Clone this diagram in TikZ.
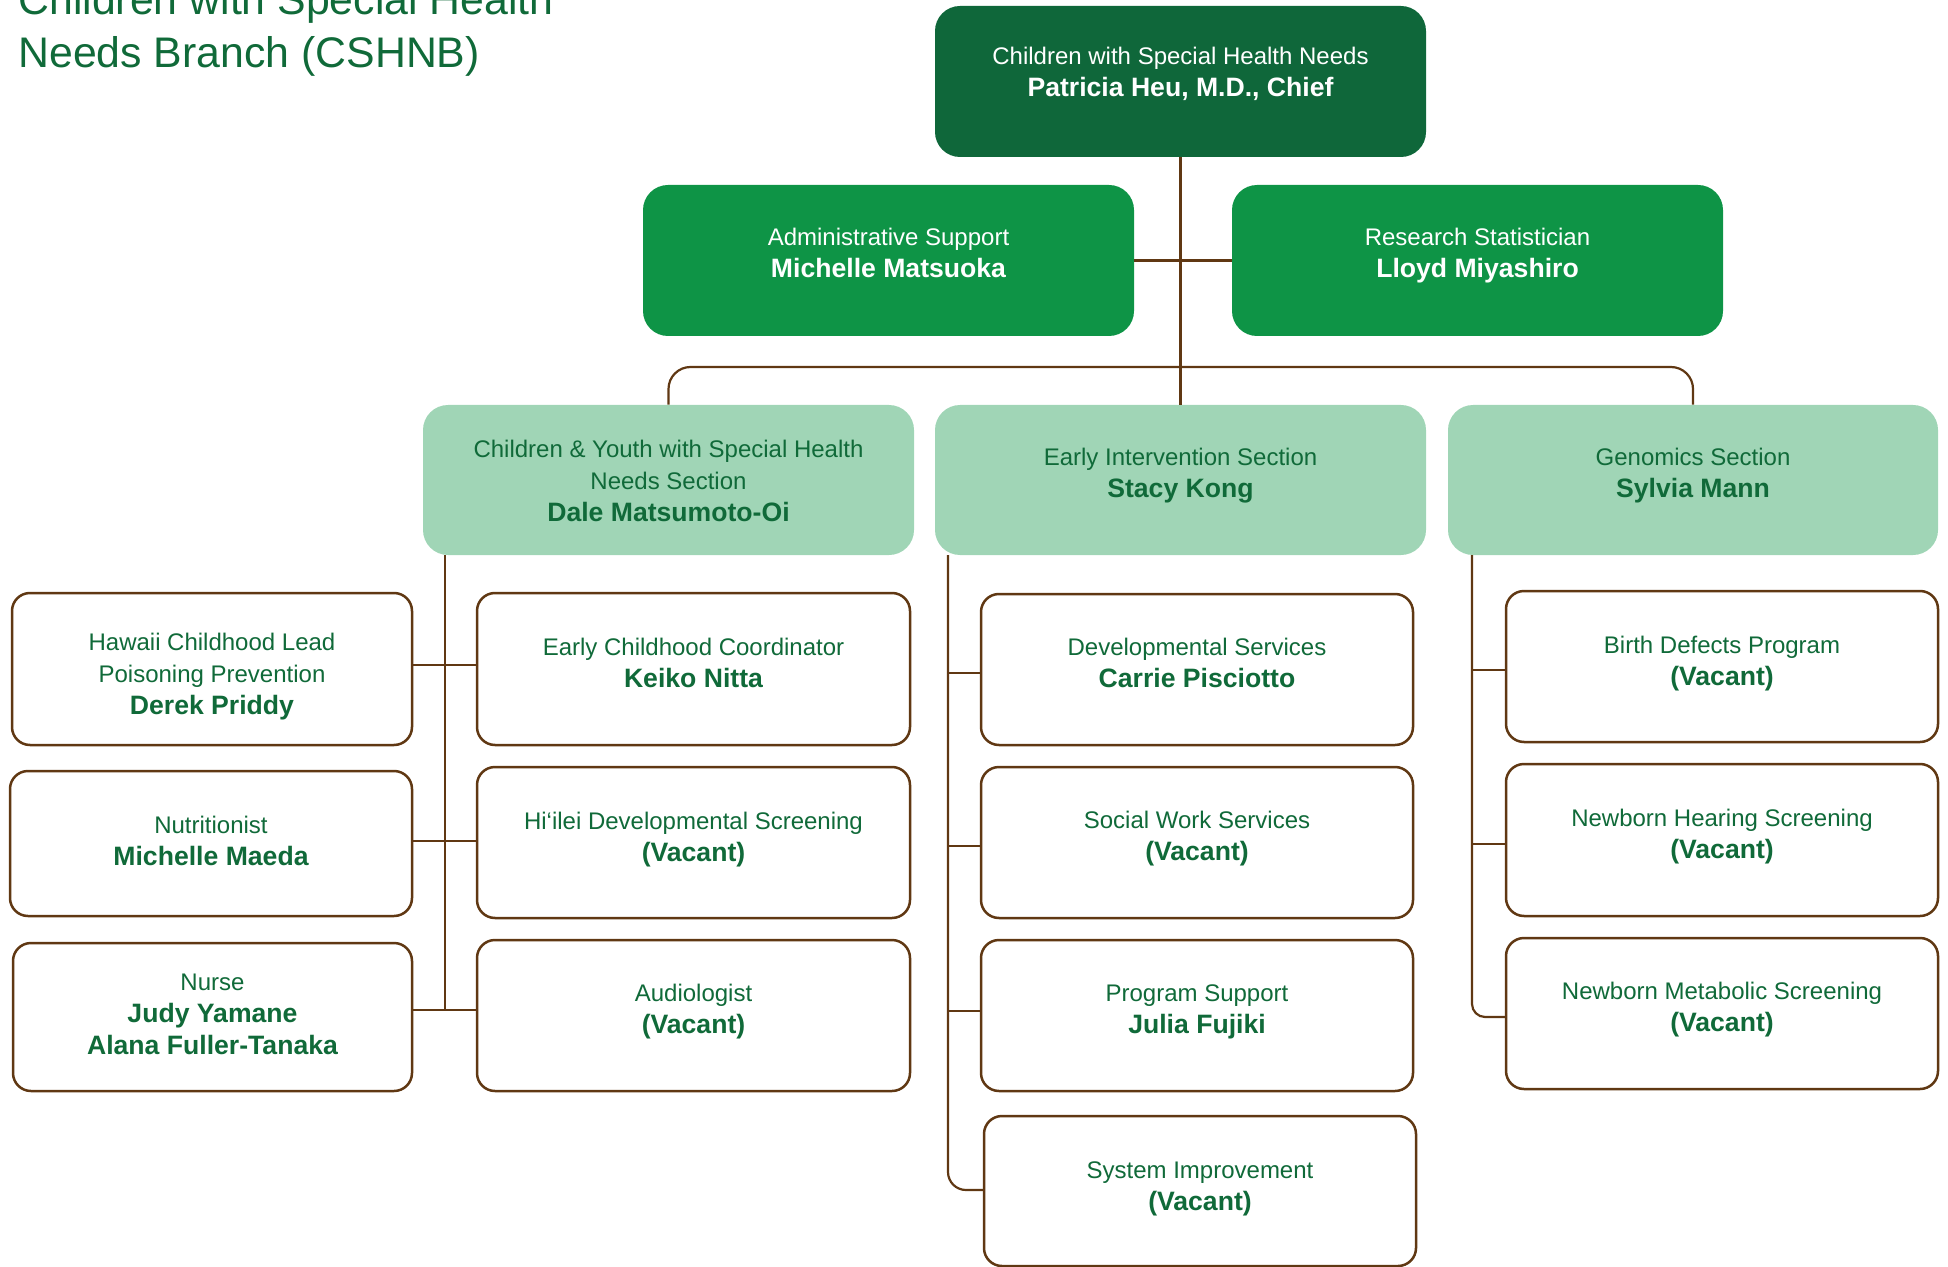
\documentclass[tikz,border=0pt]{standalone}
\usepackage{fontspec}
\setmainfont{Liberation Sans}
\usetikzlibrary{fit}
\definecolor{dkgreen}{RGB}{15,103,58}
\definecolor{midgreen}{RGB}{14,148,70}
\definecolor{ltgreen}{RGB}{160,213,182}
\definecolor{txtgreen}{RGB}{16,106,57}
\definecolor{brn}{RGB}{96,56,19}
\newcommand\bl[1]{\strut{\fontsize{13.3}{16}\selectfont\bfseries #1}}
\begin{document}
\begin{tikzpicture}[x=0.5pt,y=-0.5pt,
  darkbox/.style={fill=dkgreen, draw=none, rounded corners=12.5pt, inner sep=0pt},
  greenbox/.style={fill=midgreen, draw=none, rounded corners=12.5pt, inner sep=0pt},
  secbox/.style={fill=ltgreen, draw=none, rounded corners=12.5pt, inner sep=0pt},
  whitebox/.style={draw=brn, line width=1.25pt, fill=white, rounded corners=9pt, inner sep=0pt},
  txt/.style={align=center, text=txtgreen, font=\fontsize{12}{16}\selectfont, inner sep=0pt},
  wtxt/.style={txt, text=white},
  conn/.style={draw=brn, line width=1.1pt}]
\useasboundingbox (0,0) rectangle (1948,1267);

% title
\node[anchor=south west, inner sep=0pt, align=left, text=txtgreen,
      font=\fontsize{21.4}{26.5}\selectfont] (title) at (18,84)
  {\strut Children with Special Health\\\strut Needs Branch (CSHNB)};

% boxes
\node[darkbox, fit={(935,6) (1426,157)}] (chief) {};
\node[greenbox, fit={(643,185) (1134,336)}] (admin) {};
\node[greenbox, fit={(1232,185) (1723,336)}] (research) {};
\node[secbox, fit={(423,405) (914,555)}] (cyshcn) {};
\node[secbox, fit={(935,405) (1426,555)}] (ei) {};
\node[secbox, fit={(1448,405) (1938,555)}] (gen) {};

\node[whitebox, fit={(12,593) (412,745)}] (hawaii) {};
\node[whitebox, fit={(10,771) (412,916)}] (nutr) {};
\node[whitebox, fit={(13,943) (412,1091)}] (nurse) {};
\node[whitebox, fit={(477,593) (910,745)}] (keiko) {};
\node[whitebox, fit={(477,767) (910,918)}] (hiilei) {};
\node[whitebox, fit={(477,940) (910,1091)}] (audio) {};
\node[whitebox, fit={(981,594) (1413,745)}] (dev) {};
\node[whitebox, fit={(981,767) (1413,918)}] (social) {};
\node[whitebox, fit={(981,940) (1413,1091)}] (progsup) {};
\node[whitebox, fit={(984,1116) (1416,1266)}] (sysimp) {};
\node[whitebox, fit={(1506,591) (1938,742)}] (birth) {};
\node[whitebox, fit={(1506,764) (1938,916)}] (hearing) {};
\node[whitebox, fit={(1506,938) (1938,1089)}] (metab) {};

% texts
\node[wtxt] (chief-t) at (chief.center |- 0,74.6) {\strut Children with Special Health Needs\\\bl{Patricia Heu, M.D., Chief}};
\node[wtxt] (admin-t) at (admin.center |- 0,255.6) {\strut Administrative Support\\\bl{Michelle Matsuoka}};
\node[wtxt] (research-t) at (research.center |- 0,255.6) {\strut Research Statistician\\\bl{Lloyd Miyashiro}};
\node[txt] (cyshcn-t) at (cyshcn.center |- 0,482.6) {\strut Children \& Youth with Special Health\\\strut Needs Section\\\bl{Dale Matsumoto-Oi}};
\node[txt] (ei-t) at (ei.center |- 0,474.6) {\strut Early Intervention Section\\\bl{Stacy Kong}};
\node[txt] (gen-t) at (gen.center |- 0,474.6) {\strut Genomics Section\\\bl{Sylvia Mann}};

\node[txt] (hawaii-t) at (hawaii.center |- 0,675.6) {\strut Hawaii Childhood Lead\\\strut Poisoning Prevention\\\bl{Derek Priddy}};
\node[txt] (nutr-t) at (nutr.center |- 0,842.6) {\strut Nutritionist\\\bl{Michelle Maeda}};
\node[txt] (nurse-t) at (nurse.center |- 0,1016) {\strut Nurse\\\bl{Judy Yamane}\\\bl{Alana Fuller-Tanaka}};
\node[txt] (keiko-t) at (keiko.center |- 0,664.6) {\strut Early Childhood Coordinator\\\bl{Keiko Nitta}};
\node[txt] (hiilei-t) at (hiilei.center |- 0,838.9) {\strut Hi‘ilei Developmental Screening\\\bl{(Vacant)}};
\node[txt] (audio-t) at (audio.center |- 0,1011.3) {\strut Audiologist\\\bl{(Vacant)}};
\node[txt] (dev-t) at (dev.center |- 0,664.6) {\strut Developmental Services\\\bl{Carrie Pisciotto}};
\node[txt] (social-t) at (social.center |- 0,838.2) {\strut Social Work Services\\\bl{(Vacant)}};
\node[txt] (progsup-t) at (progsup.center |- 0,1011) {\strut Program Support\\\bl{Julia Fujiki}};
\node[txt] (sysimp-t) at (sysimp.center |- 0,1187.9) {\strut System Improvement\\\bl{(Vacant)}};
\node[txt] (birth-t) at (birth.center |- 0,663.2) {\strut Birth Defects Program\\\bl{(Vacant)}};
\node[txt] (hearing-t) at (hearing.center |- 0,836) {\strut Newborn Hearing Screening\\\bl{(Vacant)}};
\node[txt] (metab-t) at (metab.center |- 0,1009.2) {\strut Newborn Metabolic Screening\\\bl{(Vacant)}};

% connectors
\coordinate (bar) at (1180.5,367);
\coordinate (lspine) at (445,555);
\coordinate (mspine) at (948,555);
\coordinate (rspine) at (1472,555);

\draw[conn] (chief.south) -- (ei.north);
\draw[conn] (admin.east) -- (research.west);
\draw[conn, rounded corners=11pt] (cyshcn.north) -- (cyshcn.north |- bar) -- (gen.north |- bar) -- (gen.north);

\draw[conn] (lspine) -- (lspine |- 0,1010);
\draw[conn] (hawaii.east |- 0,665) -- (keiko.west |- 0,665);
\draw[conn] (nutr.east |- 0,841) -- (hiilei.west |- 0,841);
\draw[conn] (nurse.east |- 0,1010) -- (audio.west |- 0,1010);

\draw[conn, rounded corners=9pt] (mspine) |- (sysimp.west |- 0,1190);
\draw[conn] (mspine |- 0,673) -- (dev.west |- 0,673);
\draw[conn] (mspine |- 0,846) -- (social.west |- 0,846);
\draw[conn] (mspine |- 0,1011) -- (progsup.west |- 0,1011);

\draw[conn, rounded corners=6.5pt] (rspine) |- (metab.west |- 0,1017);
\draw[conn] (rspine |- 0,670) -- (birth.west |- 0,670);
\draw[conn] (rspine |- 0,843.6) -- (hearing.west |- 0,843.6);
\end{tikzpicture}
\end{document}
